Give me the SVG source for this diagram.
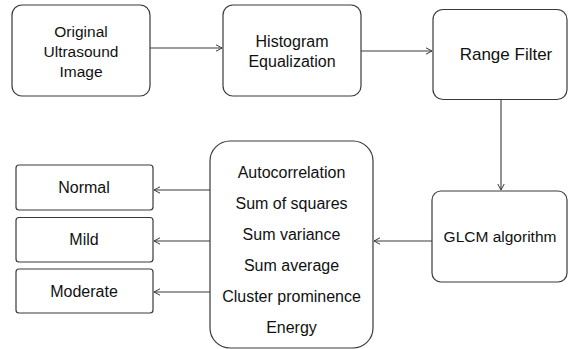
<svg xmlns="http://www.w3.org/2000/svg" width="568" height="349" viewBox="0 0 568 349">
<defs>
<style>
.box{fill:#fff;stroke:#3a3a3a;stroke-width:1.2}
.t{font-family:"Liberation Sans",Arial,sans-serif;font-size:16px;fill:#111;text-anchor:middle}
.c{stroke:#3a3a3a;stroke-width:1.1;fill:none;marker-end:url(#ah)}
</style>
<marker id="ah" viewBox="0 0 8 8" refX="7.5" refY="4" markerWidth="8" markerHeight="8" markerUnits="userSpaceOnUse" orient="auto">
<polyline points="1.5,0.8 7.5,4 1.5,7.2" fill="none" stroke="#3a3a3a" stroke-width="1"/>
</marker>
</defs>
<rect width="568" height="349" fill="#fff"/>
<g id="connectors">
<line class="c" x1="150" y1="48" x2="222" y2="48"/>
<line class="c" x1="361" y1="51" x2="432" y2="51"/>
<line class="c" x1="501" y1="99" x2="501" y2="190"/>
<line class="c" x1="432" y1="241" x2="374" y2="241"/>
<line class="c" x1="210" y1="190" x2="154" y2="190"/>
<line class="c" x1="210" y1="241" x2="154" y2="241"/>
<line class="c" x1="210" y1="292" x2="154" y2="292"/>
</g>
<g id="original">
<rect class="box" x="12" y="5" width="138" height="91" rx="10"/>
<text class="t" x="81" y="36.5" style="font-size:15.5px">Original</text>
<text class="t" x="81" y="56.5" style="font-size:15.5px">Ultrasound</text>
<text class="t" x="81" y="76.5" style="font-size:15.5px">Image</text>
</g>
<g id="histogram">
<rect class="box" x="223" y="5" width="138" height="91" rx="10"/>
<text class="t" x="292" y="46.5">Histogram</text>
<text class="t" x="292" y="66.5">Equalization</text>
</g>
<g id="range">
<rect class="box" x="433" y="9.5" width="134" height="90" rx="10"/>
<text class="t" x="506" y="60" style="font-size:17px">Range Filter</text>
</g>
<g id="glcm">
<rect class="box" x="432" y="191" width="135" height="91" rx="9"/>
<text class="t" x="500" y="242" style="font-size:15.5px">GLCM algorithm</text>
</g>
<g id="features">
<rect class="box" x="210" y="141" width="163" height="207" rx="20"/>
<text class="t" x="291.5" y="178">Autocorrelation</text>
<text class="t" x="291.5" y="209">Sum of squares</text>
<text class="t" x="291.5" y="240">Sum variance</text>
<text class="t" x="291.5" y="271">Sum average</text>
<text class="t" x="291.5" y="302">Cluster prominence</text>
<text class="t" x="291.5" y="333">Energy</text>
</g>
<g id="normal">
<rect class="box" x="16" y="165" width="137" height="45" rx="3"/>
<text class="t" x="84" y="193">Normal</text>
</g>
<g id="mild">
<rect class="box" x="16" y="217.5" width="137" height="44.5" rx="3"/>
<text class="t" x="84" y="245">Mild</text>
</g>
<g id="moderate">
<rect class="box" x="16" y="269" width="137" height="44" rx="3"/>
<text class="t" x="84" y="296.5">Moderate</text>
</g>
</svg>
